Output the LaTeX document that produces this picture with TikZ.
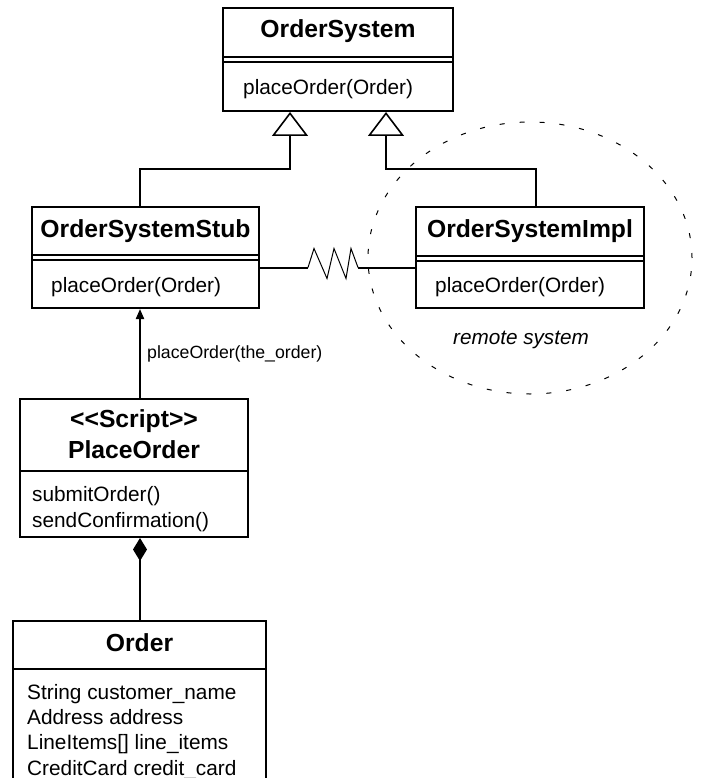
\documentclass[tikz,border=0pt]{standalone}
\usepackage{fontspec}
\setmainfont{Liberation Sans}
\usetikzlibrary{arrows.meta}
\begin{document}
\begin{tikzpicture}[x=1pt,y=-1pt,
  box/.style={draw, line width=2pt, rectangle, inner sep=0pt},
  rule/.style={line width=2pt},
  title/.style={font=\fontsize{24.7}{30}\selectfont\bfseries, inner sep=0pt, anchor=base},
  body/.style={font=\fontsize{20.8}{25}\selectfont, inner sep=0pt, anchor=base west},
  gen/.style={line width=2pt, -{Triangle[open, length=24pt, width=36pt, line width=1.6pt]}},
  callarrow/.style={line width=2pt, -{Triangle[length=10pt, width=8pt]}},
  compose/.style={line width=2pt, {Diamond[length=23pt, width=14pt]}-},
  remote/.style={line width=1pt, dash pattern=on 5pt off 15pt}]

\fill[white] (0,0) rectangle (701,778);
\clip (0,0) rectangle (701,778);

% remote system boundary
\draw[remote] (530,258) ellipse [x radius=162pt, y radius=136pt];
\node[font=\fontsize{20.7}{25}\selectfont\itshape, inner sep=0pt, anchor=base] (remoteLbl) at (521,344) {remote system};

% OrderSystem interface
\node[box, minimum width=230pt, minimum height=103pt] (sys) at (338,59.5) {};
\draw[rule] (sys.west |- 0,57) -- (sys.east |- 0,57);
\draw[rule] (sys.west |- 0,62) -- (sys.east |- 0,62);
\node[title] (sysT) at (338,38) {OrderSystem};
\node[body] (sysB) at (243,95) {placeOrder(Order)};

% OrderSystemStub
\node[box, minimum width=227pt, minimum height=101pt] (stub) at (145.5,257.5) {};
\draw[rule] (stub.west |- 0,255) -- (stub.east |- 0,255);
\draw[rule] (stub.west |- 0,260) -- (stub.east |- 0,260);
\node[title] (stubT) at (145.5,237) {OrderSystemStub};
\node[body] (stubB) at (51,292) {placeOrder(Order)};

% OrderSystemImpl
\node[box, minimum width=228pt, minimum height=101pt] (impl) at (530,257.5) {};
\draw[rule] (impl.west |- 0,256) -- (impl.east |- 0,256);
\draw[rule] (impl.west |- 0,261) -- (impl.east |- 0,261);
\node[title] (implT) at (530,237) {OrderSystemImpl};
\node[body] (implB) at (435,292) {placeOrder(Order)};

% PlaceOrder script
\node[box, minimum width=228pt, minimum height=138pt] (po) at (134,468) {};
\draw[rule] (po.west |- 0,471) -- (po.east |- 0,471);
\node[title] (poS) at (134,427) {<{}<Script>{}>};
\node[title] (poT) at (134,458) {PlaceOrder};
\node[body] (poB1) at (32,501) {submitOrder()};
\node[body] (poB2) at (32,527) {sendConfirmation()};

% Order
\node[box, minimum width=253pt, minimum height=189pt] (order) at (139.5,715.5) {};
\draw[rule] (order.west |- 0,669) -- (order.east |- 0,669);
\node[title] (orderT) at (139.5,651) {Order};
\node[body] (orderB1) at (27,699) {String customer\_name};
\node[body] (orderB2) at (27,724) {Address address};
\node[body] (orderB3) at (27,749) {LineItems[] line\_items};
\node[body] (orderB4) at (27,775) {CreditCard credit\_card};

% generalisations
\draw[gen] ([xshift=-5.5pt]stub.north) -- ++(0,-37) -| ([xshift=-48pt]sys.south);
\draw[gen] ([xshift=6pt]impl.north) -- ++(0,-37) -| ([xshift=48pt]sys.south);

% remote link
\draw[rule] ([yshift=-10pt]stub.east) -- ++(48,0) coordinate (zs);
\draw[line width=1pt, line join=miter] (zs) -- ++(6,-19) -- ++(13,30) -- ++(7,-30) -- ++(12,30) -- ++(5,-30) -- ++(7,19) coordinate (ze);
\draw[rule] (ze) -- ([yshift=-10pt]impl.west);

% call from script to stub
\draw[callarrow] ([xshift=6pt]po.north) -- ([xshift=-5.5pt]stub.south);
\node[font=\fontsize{17.7}{21}\selectfont, inner sep=0pt, anchor=base west] (callLbl) at (147,358) {placeOrder(the\_order)};

% composition
\draw[compose] ([xshift=6pt]po.south) -- ([xshift=0.5pt]order.north);
\end{tikzpicture}
\end{document}
